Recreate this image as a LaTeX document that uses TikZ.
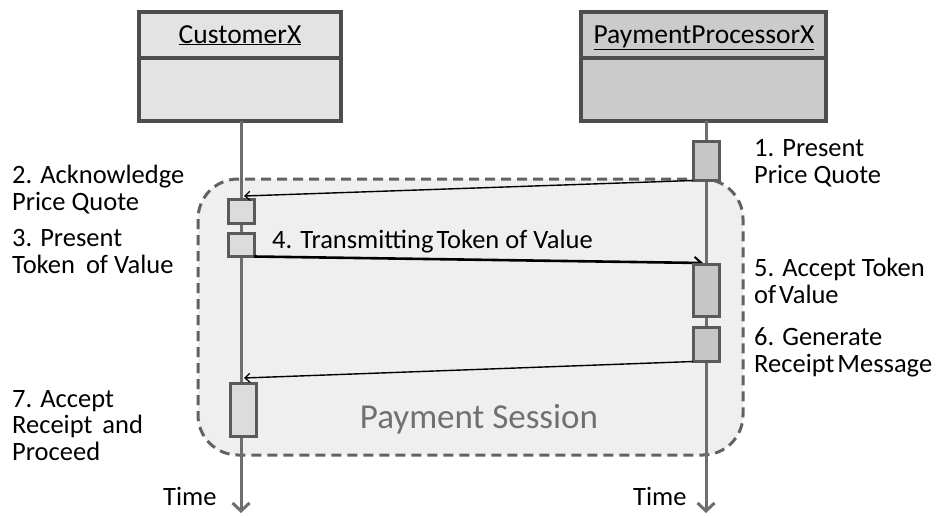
\documentclass[tikz,border=0pt]{standalone}
\usepackage{fontspec}
\setmainfont{Carlito}
\usetikzlibrary{arrows.meta}

\definecolor{frameline}{HTML}{4D4D4D}
\definecolor{custfill}{HTML}{E3E3E3}
\definecolor{procfill}{HTML}{CBCBCB}
\definecolor{actline}{HTML}{5A5A5A}
\definecolor{custact}{HTML}{DCDCDC}
\definecolor{procact}{HTML}{C6C6C6}
\definecolor{lifeline}{HTML}{6E6E6E}
\definecolor{sessfill}{HTML}{EFEFEF}
\definecolor{sessline}{HTML}{626262}
\definecolor{sesstext}{HTML}{707070}

\tikzset{
  header/.style={draw=frameline, line width=4pt, inner sep=0pt, outer sep=0pt},
  headtext/.style={font=\fontsize{27.5}{30}\selectfont, inner sep=0pt, anchor=base},
  actbox/.style={draw=actline, line width=3pt, inner sep=0pt, outer sep=0pt, minimum width=26pt},
  life/.style={draw=lifeline, line width=3pt, -{Straight Barb[length=8pt,width=17pt,line width=3pt]}},
  msg/.style={black, line width=1.4pt, -{Straight Barb[length=5pt,width=9pt,line width=1.2pt]}},
  bigmsg/.style={black, line width=2.6pt, -{Straight Barb[length=7pt,width=12pt,line width=2pt]}},
  lbl/.style={font=\fontsize{26.5}{26.5}\selectfont, inner sep=0pt, align=left, anchor=base west},
  session/.style={draw=sessline, fill=sessfill, line width=3pt, dash pattern=on 10pt off 6pt,
    rounded corners=40pt, inner sep=0pt, outer sep=0pt}
}

\begin{document}
\begin{tikzpicture}[x=1pt, y=-1pt]
  \useasboundingbox (0,0) rectangle (947,515);

  % session frame
  \node[session, minimum width=545pt, minimum height=276pt] (sess) at (470.5,317) {};
  \node[font=\fontsize{35}{38}\selectfont, text=sesstext, inner sep=0pt] (sesslbl) at (479,419) {Payment Session};

  % participants
  \node[header, fill=custfill, minimum width=202pt, minimum height=109pt] (cust) at (240,66.5) {};
  \node[header, fill=procfill, minimum width=245pt, minimum height=109pt] (proc) at (703.5,66.5) {};
  \draw[frameline, line width=4pt] (cust.west |- 0,58) -- (cust.east |- 0,58);
  \draw[frameline, line width=4pt] (proc.west |- 0,58) -- (proc.east |- 0,58);
  \node[headtext] (custname) at (240,43) {\underline{CustomerX}};
  \node[headtext] (procname) at (704,43) {\underline{PaymentProcessorX}};

  % lifelines
  \coordinate (custend) at (241,513);
  \coordinate (procend) at (706,513);
  \draw[life] (cust.south -| custend) -- (custend);
  \draw[life] (proc.south -| procend) -- (procend);

  % activations
  \node[actbox, fill=procact, minimum height=39pt] (a1) at (706,161) {};
  \node[actbox, fill=custact, minimum height=24pt] (a2) at (241,211.5) {};
  \node[actbox, fill=custact, minimum height=23pt] (a3) at (241,245) {};
  \node[actbox, fill=procact, minimum height=34pt] (a6) at (706,344.5) {};
  \node[actbox, fill=custact, minimum height=53pt] (a7) at (243,410) {};

  % messages
  \coordinate (m1end) at (244,196);
  \coordinate (m4end) at (703,263);
  \coordinate (m6end) at (244,378);
  \draw[msg] (a1.south west) -- (m1end);
  \draw[bigmsg] (a3.south east) -- (m4end);
  \draw[msg] (a6.south west) -- (m6end);
  % receiving activation drawn over the arrow tip
  \node[actbox, fill=procact, minimum height=52pt] (a5) at (706,290.5) {};

  % step labels (anchored at the baseline of their last line)
  \node[lbl] (l1) at (754,183) {1. Present\\Price Quote};
  \node[lbl] (l2) at (12,210) {2. Acknowledge\\Price Quote};
  \node[lbl] (l3) at (12,273) {3. Present\\Token\hspace{5pt} of Value};
  \node[lbl] (l4) at (272,248) {4. Transmitting\hspace{-3pt} Token of Value};
  \node[lbl] (l5) at (754,303) {5. Accept Token\\of\hspace{-3pt} Value};
  \node[lbl] (l6) at (754,372) {6. Generate\\Receipt\hspace{-3pt} Message};
  \node[lbl] (l7) at (12,460) {7. Accept\\Receipt\hspace{4pt} and\\Proceed};
  \node[lbl] (t1) at (163,505) {Time};
  \node[lbl] (t2) at (633,505) {Time};
\end{tikzpicture}
\end{document}
